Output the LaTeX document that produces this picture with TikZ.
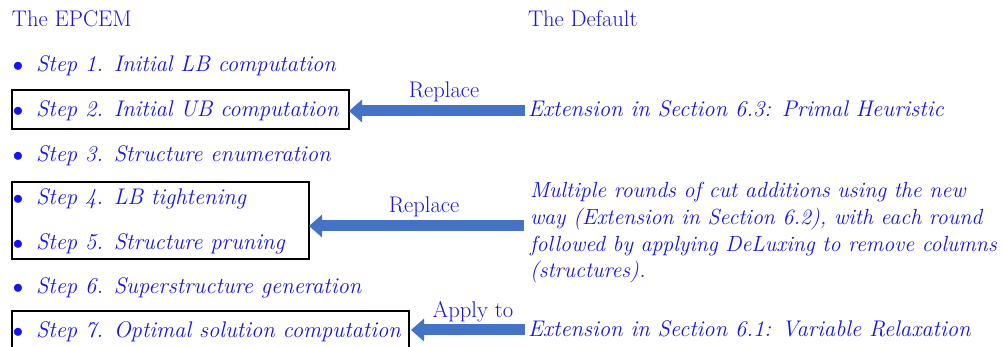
\documentclass[tikz,border=0pt]{standalone}
\usepackage{fontspec}
\setmainfont{Latin Modern Roman}
\usetikzlibrary{arrows.meta}
\definecolor{arrowblue}{RGB}{68,114,196}
\definecolor{txtblue}{RGB}{20,20,235}
\begin{document}
\begin{tikzpicture}[x=1pt,y=-1pt,
  txt/.style={inner sep=0pt, outer sep=0pt, text=txtblue, font=\fontsize{22.6}{26.7}\selectfont},
  stepbox/.style={draw=black, line width=1.6pt, inner sep=0pt, outer sep=0pt, anchor=north west},
  bigarrow/.style={draw=arrowblue, line width=11pt, -{Triangle[length=13pt,width=22pt]}}]
\useasboundingbox (0,0) rectangle (1002,347);

% headings
\node[txt, anchor=base west] (h1) at (12,27) {The EPCEM};
\node[txt, anchor=base west] (h2) at (528,27) {The Default};

% steps
\foreach \i/\y/\t in {1/72/Initial LB computation, 2/117/Initial UB computation, 3/162/Structure enumeration, 4/205/LB tightening, 5/250/Structure pruning, 6/294/Superstructure generation, 7/338/Optimal solution computation}{
  \node[txt, anchor=base] (b\i) at (18,\y) {$\bullet$};
  \node[txt, anchor=base west] (s\i) at (36,\y) {\itshape Step \i. \t};
}

% boxes
\node[stepbox, minimum width=337pt, minimum height=39pt] (box1) at (12,90) {};
\node[stepbox, minimum width=297pt, minimum height=77pt] (box2) at (12,182) {};
\node[stepbox, minimum width=397pt, minimum height=45pt] (box3) at (12,311) {};

% right column
\node[txt, anchor=base west] (ext63) at (528,117) {\itshape Extension in Section 6.3: Primal Heuristic};
\node[txt, anchor=base west, align=left, font=\fontsize{21.9}{26.7}\selectfont] (multi) at (530,278) {\itshape Multiple rounds of cut additions using the new\\\itshape way (Extension in Section 6.2), with each round\\\itshape followed by applying DeLuxing to remove columns\\\itshape (structures).};
\node[txt, anchor=base west] (ext61) at (528,337) {\itshape Extension in Section 6.1: Variable Relaxation};

% arrows
\coordinate (a1s) at (525,111);
\coordinate (a2s) at (524,226);
\coordinate (a3s) at (525,330);
\draw[bigarrow] (a1s) -- (a1s -| box1.east);
\draw[bigarrow] (a2s) -- (a2s -| box2.east);
\draw[bigarrow] (a3s) -- ([xshift=2pt]a3s -| box3.east);

% labels
\node[txt, anchor=base] (l1) at (444,98) {Replace};
\node[txt, anchor=base] (l2) at (424,213) {Replace};
\node[txt, anchor=base] (l3) at (473,318) {Apply to};
\end{tikzpicture}
\end{document}
